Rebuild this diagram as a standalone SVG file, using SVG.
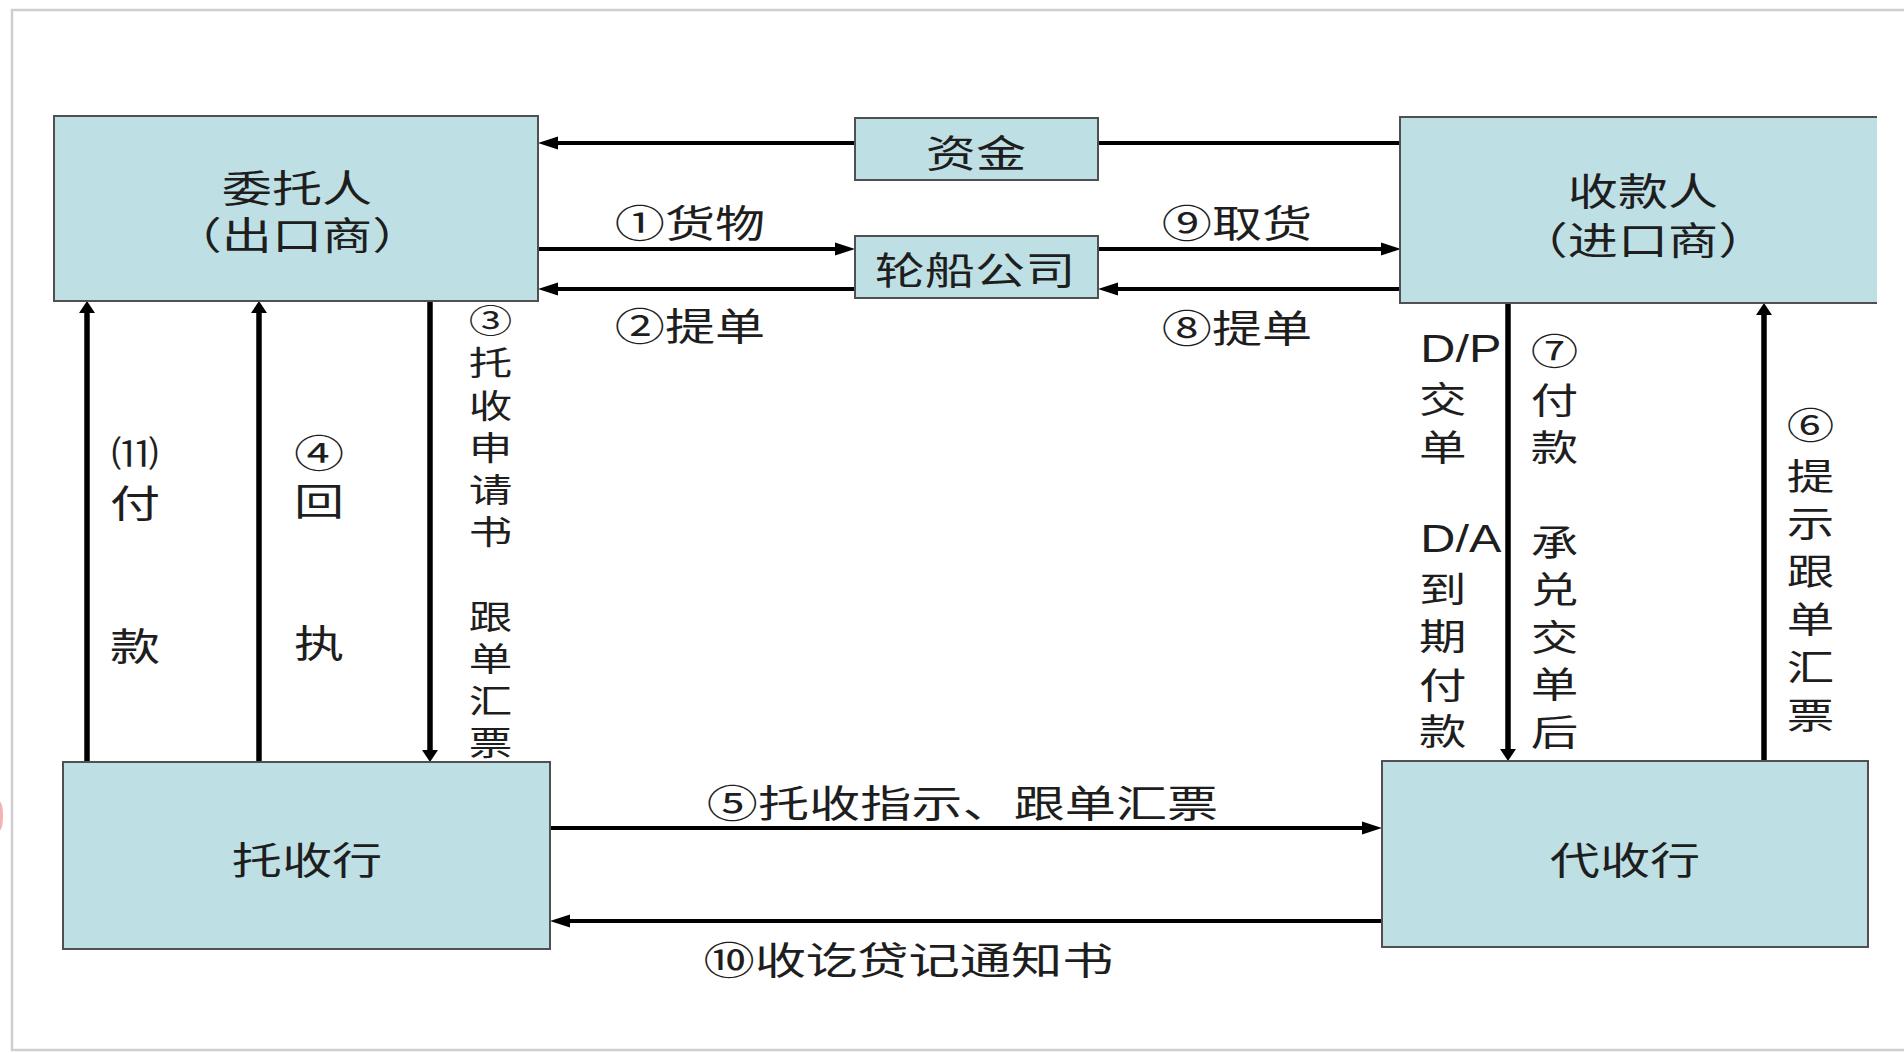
<svg xmlns="http://www.w3.org/2000/svg" width="1904" height="1053" viewBox="0 0 1904 1053">
  <style>
    .box { fill: #BEE0E4; stroke: #505050; stroke-width: 2; }
    .fillonly { fill: #BEE0E4; stroke: none; }
    .edge { fill: none; stroke: #505050; stroke-width: 2; }
    .t { font-family: "Noto Sans CJK SC", "Noto Sans CJK JP", sans-serif; fill: #1e1e1e; }
    .lat { font-family: "Liberation Sans", Arial, sans-serif; fill: #1e1e1e; }
    .hl { fill: none; stroke: #000; stroke-width: 4; }
    .vl { fill: none; stroke: #000; stroke-width: 5.5; }
    .m { text-anchor: middle; }
  </style>
  <defs>
    <marker id="ah" markerUnits="userSpaceOnUse" viewBox="0 -8 22 16" markerWidth="22" markerHeight="16" refX="10" refY="0" orient="auto">
      <path d="M0,-6.5 L20,0 L0,6.5 z" fill="#000"/>
    </marker>
    <marker id="av" markerUnits="userSpaceOnUse" viewBox="0 -9 14 18" markerWidth="14" markerHeight="18" refX="6" refY="0" orient="auto">
      <path d="M0,-8 L12,0 L0,8 z" fill="#000"/>
    </marker>
  </defs>

  <rect x="0" y="0" width="1904" height="1053" fill="#ffffff"/>
  <path d="M1904,10 L12,10 L12,1050 L1904,1050" fill="none" stroke="#cfcfcf" stroke-width="2.5"/>
  <ellipse cx="0" cy="816" rx="3" ry="14" fill="#e88080" opacity="0.6"/>

  <g id="connectors">
    <path class="hl" d="M855,143 L548,143" marker-end="url(#ah)"/>
    <path class="hl" d="M1098,143 L1401,143"/>
    <path class="hl" d="M538,249 L845,249" marker-end="url(#ah)"/>
    <path class="hl" d="M855,289 L548,289" marker-end="url(#ah)"/>
    <path class="hl" d="M1098,249 L1391,249" marker-end="url(#ah)"/>
    <path class="hl" d="M1401,289 L1108,289" marker-end="url(#ah)"/>
    <path class="hl" d="M550,828 L1372,828" marker-end="url(#ah)"/>
    <path class="hl" d="M1382,921 L560,921" marker-end="url(#ah)"/>
    <path class="vl" d="M87,762 L87,307" marker-end="url(#av)"/>
    <path class="vl" d="M259,762 L259,307" marker-end="url(#av)"/>
    <path class="vl" d="M430,301 L430,756" marker-end="url(#av)"/>
    <path class="vl" d="M1508,303 L1508,755" marker-end="url(#av)"/>
    <path class="vl" d="M1764,761 L1764,309" marker-end="url(#av)"/>

    <g transform="translate(690,0) scale(1.32,1)"><text class="t m" x="0" y="237" font-size="38">①货物</text></g>
    <g transform="translate(690,0) scale(1.32,1)"><text class="t m" x="0" y="340" font-size="38">②提单</text></g>
    <g transform="translate(1237,0) scale(1.32,1)"><text class="t m" x="0" y="237" font-size="38">⑨取货</text></g>
    <g transform="translate(1237,0) scale(1.32,1)"><text class="t m" x="0" y="342" font-size="38">⑧提单</text></g>
    <g transform="translate(962.5,0) scale(1.346,1)"><text class="t m" x="0" y="817" font-size="38">⑤托收指示、跟单汇票</text></g>
    <g transform="translate(908.5,0) scale(1.35,1)"><text class="t m" x="0" y="974" font-size="38">⑩收讫贷记通知书</text></g>

    <g transform="translate(135,0) scale(1.32,1)">
      <text class="t m" font-size="36"><tspan x="0" y="467">⑾</tspan><tspan x="0" y="517" font-size="38">付</tspan><tspan x="0" y="660" font-size="38">款</tspan></text>
    </g>
    <g transform="translate(319,0) scale(1.32,1)">
      <text class="t m" font-size="38"><tspan x="0" y="467">④</tspan><tspan x="0" y="515">回</tspan><tspan x="0" y="657">执</tspan></text>
    </g>
    <g transform="translate(490.5,0) scale(1.32,1)">
      <text class="t m" font-size="33"><tspan x="0" y="333">③</tspan><tspan x="0" y="375.5">托</tspan><tspan x="0" y="417.7">收</tspan><tspan x="0" y="459.9">申</tspan><tspan x="0" y="502.1">请</tspan><tspan x="0" y="544.3">书</tspan><tspan x="0" y="628.7">跟</tspan><tspan x="0" y="670.9">单</tspan><tspan x="0" y="713.1">汇</tspan><tspan x="0" y="755.3">票</tspan></text>
    </g>
    <g transform="translate(1419,0) scale(1.28,1)">
      <text class="lat" x="1" y="362" font-size="38">D/P</text>
      <text class="lat" x="1" y="552" font-size="38">D/A</text>
    </g>
    <g transform="translate(1419,0) scale(1.32,1)">
      <text class="t" font-size="36"><tspan x="0" y="413">交</tspan><tspan x="0" y="461">单</tspan><tspan x="0" y="603">到</tspan><tspan x="0" y="650">期</tspan><tspan x="0" y="699">付</tspan><tspan x="0" y="745">款</tspan></text>
    </g>
    <g transform="translate(1554.5,0) scale(1.32,1)">
      <text class="t m" font-size="36"><tspan x="0" y="365">⑦</tspan><tspan x="0" y="414">付</tspan><tspan x="0" y="461">款</tspan><tspan x="0" y="556">承</tspan><tspan x="0" y="603.5">兑</tspan><tspan x="0" y="651">交</tspan><tspan x="0" y="698.5">单</tspan><tspan x="0" y="746">后</tspan></text>
    </g>
    <g transform="translate(1810.5,0) scale(1.32,1)">
      <text class="t m" font-size="36"><tspan x="0" y="439">⑥</tspan><tspan x="0" y="490">提</tspan><tspan x="0" y="537">示</tspan><tspan x="0" y="585">跟</tspan><tspan x="0" y="633">单</tspan><tspan x="0" y="681">汇</tspan><tspan x="0" y="729">票</tspan></text>
    </g>
  </g>

  <g id="node-weituoren">
    <rect class="box" x="54" y="116" width="484" height="185"/>
    <g transform="translate(297,0) scale(1.32,1)">
      <text class="t m" x="0" y="202" font-size="38">委托人</text>
      <text class="t m" x="0" y="249" font-size="38">（出口商）</text>
    </g>
  </g>

  <g id="node-zijin">
    <rect class="box" x="855" y="118" width="243" height="62"/>
    <g transform="translate(976,0) scale(1.32,1)"><text class="t m" x="0" y="167" font-size="38">资金</text></g>
  </g>

  <g id="node-lunchuan">
    <rect class="box" x="855" y="236" width="243" height="62"/>
    <g transform="translate(975,0) scale(1.32,1)"><text class="t m" x="0" y="284" font-size="38">轮船公司</text></g>
  </g>

  <g id="node-shoukuanren">
    <rect class="fillonly" x="1400" y="117" width="477" height="186"/>
    <path class="edge" d="M1877,117 L1400,117 L1400,303 L1877,303"/>
    <g transform="translate(1643,0) scale(1.32,1)">
      <text class="t m" x="0" y="205" font-size="38">收款人</text>
      <text class="t m" x="0" y="254" font-size="38">（进口商）</text>
    </g>
  </g>

  <g id="node-tuoshouhang">
    <rect class="box" x="63" y="762" width="487" height="187"/>
    <g transform="translate(307,0) scale(1.32,1)"><text class="t m" x="0" y="874" font-size="38">托收行</text></g>
  </g>

  <g id="node-daishouhang">
    <rect class="box" x="1382" y="761" width="486" height="186"/>
    <g transform="translate(1625,0) scale(1.32,1)"><text class="t m" x="0" y="874" font-size="38">代收行</text></g>
  </g>
</svg>
